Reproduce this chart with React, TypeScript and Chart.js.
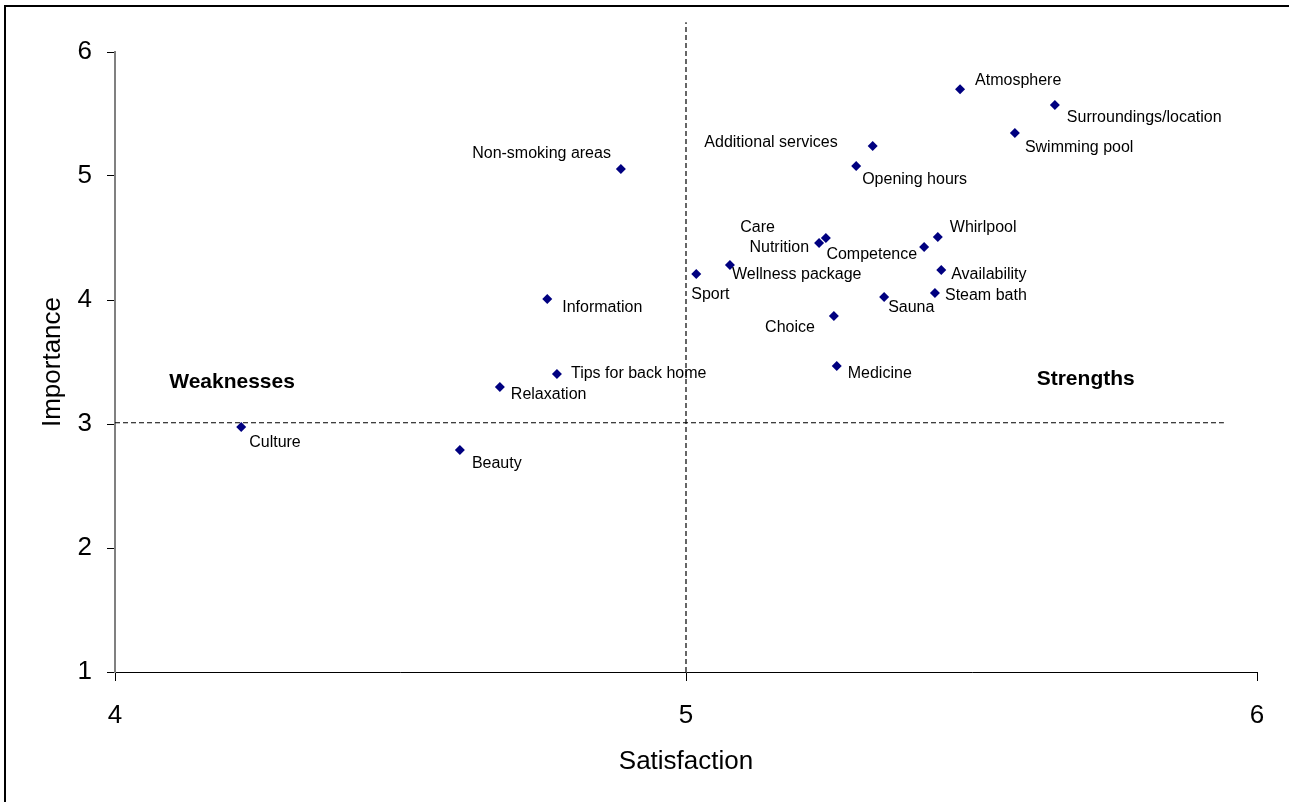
import React, { useEffect, useRef } from "react";
import { Chart, registerables } from "chart.js";

Chart.register(...registerables);

// ---- data ----
const attributes = [
  "Atmosphere",
  "Surroundings/location",
  "Swimming pool",
  "Additional services",
  "Opening hours",
  "Non-smoking areas",
  "Whirlpool",
  "Competence",
  "Care",
  "Nutrition",
  "Wellness package",
  "Sport",
  "Availability",
  "Steam bath",
  "Sauna",
  "Choice",
  "Information",
  "Medicine",
  "Tips for back home",
  "Relaxation",
  "Culture",
  "Beauty",
];
const satisfaction = [
  5.48, 5.646, 5.576, 5.327, 5.298, 4.886, 5.441, 5.417, 5.245, 5.233, 5.077,
  5.018, 5.447, 5.436, 5.347, 5.259, 4.757, 5.264, 4.774, 4.674, 4.221, 4.604,
];
const importance = [
  5.7, 5.573, 5.347, 5.242, 5.081, 5.056, 4.508, 4.427, 4.5, 4.46, 4.282,
  4.21, 4.242, 4.056, 4.024, 3.871, 4.008, 3.468, 3.403, 3.298, 2.976, 2.79,
];
const xTickValues = [4, 5, 6];
const yTickValues = [1, 2, 3, 4, 5, 6];
const quadrantNames = ["Weaknesses", "Strengths"];
const quadrantX = [4.205, 5.7];
const quadrantY = [3.335, 3.365];
const verticalDividerX = [5, 5];
const verticalDividerY = [1, 6.24];
const horizontalDividerX = [4, 5.942];
const horizontalDividerY = [3.01, 3.01];

const FONT = "'Liberation Sans', Arial, sans-serif";

// label placement (style): [dx, dy, align]
const LABEL_PLACE: Record<string, [number, number, CanvasTextAlign]> = {
  Atmosphere: [15, -9, "left"],
  "Surroundings/location": [12, 13, "left"],
  "Swimming pool": [10, 15, "left"],
  "Additional services": [-35, -3, "right"],
  "Opening hours": [6, 14, "left"],
  "Non-smoking areas": [-10, -15, "right"],
  Whirlpool: [12, -9, "left"],
  Competence: [-7, 8, "right"],
  Care: [-51, -10, "right"],
  Nutrition: [-10, 5, "right"],
  "Wellness package": [2, 10, "left"],
  Sport: [-5, 21, "left"],
  Availability: [10, 5, "left"],
  "Steam bath": [10, 3, "left"],
  Sauna: [4, 11, "left"],
  Choice: [-19, 12, "right"],
  Information: [15, 9, "left"],
  Medicine: [11, 8, "left"],
  "Tips for back home": [14, 0, "left"],
  Relaxation: [11, 8, "left"],
  Culture: [8, 16, "left"],
  Beauty: [12, 14, "left"],
};

const labelPlugin = {
  id: "pointLabels",
  afterDatasetsDraw(chart: any) {
    const ctx = chart.ctx;
    const xs = chart.scales.x;
    const ys = chart.scales.y;
    ctx.save();
    ctx.fillStyle = "#000";
    ctx.textBaseline = "middle";
    ctx.font = `16px ${FONT}`;
    const meta = chart.getDatasetMeta(0);
    meta.data.forEach((pt: any, i: number) => {
      const name = attributes[i];
      const place = LABEL_PLACE[name] || [10, 0, "left"];
      ctx.textAlign = place[2];
      ctx.fillText(name, pt.x + place[0], pt.y + place[1]);
    });
    ctx.font = `bold 21px ${FONT}`;
    ctx.textAlign = "center";
    quadrantNames.forEach((q, i) => {
      ctx.fillText(q, xs.getPixelForValue(quadrantX[i]), ys.getPixelForValue(quadrantY[i]));
    });
    ctx.restore();
  },
};

export default function App() {
  const ref = useRef<HTMLCanvasElement | null>(null);

  useEffect(() => {
    if (!ref.current) return;
    const chart = new Chart(ref.current, {
      type: "scatter",
      data: {
        datasets: [
          {
            label: "Attributes",
            data: satisfaction.map((s, i) => ({ x: s, y: importance[i] })),
            pointStyle: "rectRot",
            pointRadius: 5,
            pointBackgroundColor: "#000080",
            pointBorderColor: "#000080",
            pointBorderWidth: 0,
            order: 0,
          },
          {
            type: "line",
            label: "vdivider",
            data: verticalDividerX.map((x, i) => ({ x, y: verticalDividerY[i] })),
            borderColor: "#000",
            borderWidth: 1.2,
            borderDash: [5, 3],
            pointRadius: 0,
            fill: false,
            clip: false as any,
            order: 1,
          } as any,
          {
            type: "line",
            label: "hdivider",
            data: horizontalDividerX.map((x, i) => ({ x, y: horizontalDividerY[i] })),
            borderColor: "#000",
            borderWidth: 1.2,
            borderDash: [5, 3],
            pointRadius: 0,
            fill: false,
            clip: false as any,
            order: 1,
          } as any,
        ],
      },
      options: {
        responsive: false,
        animation: false,
        layout: { padding: { top: 52, right: 32, left: 0, bottom: 0 } },
        plugins: {
          legend: { display: false },
          tooltip: { enabled: false },
        },
        scales: {
          x: {
            type: "linear",
            min: 4,
            max: 6,
            afterBuildTicks: (s: any) => {
              s.ticks = xTickValues.map((v) => ({ value: v }));
            },
            afterFit: (s: any) => {
              s.height = 130;
            },
            ticks: {
              color: "#000",
              padding: 19,
              font: { family: FONT, size: 26 },
              maxRotation: 0,
            },
            grid: {
              drawOnChartArea: false,
              drawTicks: true,
              tickLength: 9,
              color: "#000",
            },
            border: { color: "#000", width: 1 },
            title: {
              display: true,
              text: "Satisfaction",
              color: "#000",
              font: { family: FONT, size: 26 },
              padding: { top: 0, bottom: 25 },
            },
          },
          y: {
            type: "linear",
            min: 1,
            max: 6,
            afterBuildTicks: (s: any) => {
              s.ticks = yTickValues.map((v) => ({ value: v }));
            },
            afterFit: (s: any) => {
              s.width = 115;
            },
            ticks: {
              color: "#000",
              padding: 15,
              font: { family: FONT, size: 26 },
            },
            grid: {
              drawOnChartArea: false,
              drawTicks: true,
              tickLength: 8,
              color: "#000",
            },
            border: { color: "#808080", width: 2 },
            title: {
              display: true,
              text: "Importance",
              color: "#000",
              font: { family: FONT, size: 26 },
              padding: { top: 37, bottom: 0 },
            },
          },
        },
      },
      plugins: [labelPlugin],
    });
    return () => chart.destroy();
  }, []);

  return (
    <div
      style={{
        position: "fixed",
        left: 0,
        top: 0,
        width: 1289,
        height: 802,
        overflow: "hidden",
        background: "#fff",
      }}
    >
      <div
        style={{
          position: "absolute",
          left: 4,
          top: 5,
          width: 1400,
          height: 900,
          borderLeft: "2px solid #000",
          borderTop: "2px solid #000",
        }}
      />
      <canvas
        ref={ref}
        width={1289}
        height={802}
        style={{ position: "absolute", left: 0, top: 0, width: 1289, height: 802 }}
      />
    </div>
  );
}
